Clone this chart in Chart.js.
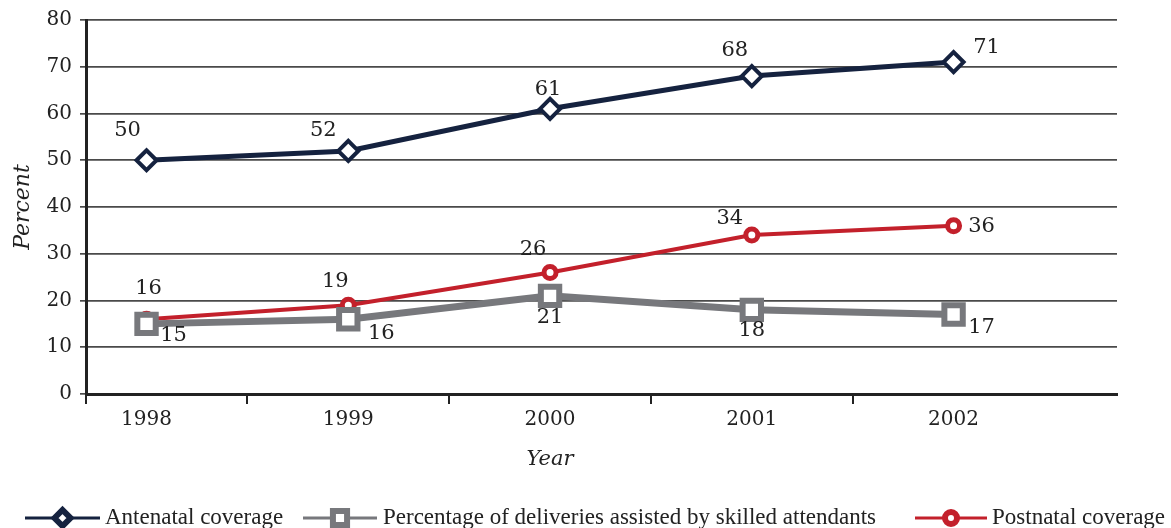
<!DOCTYPE html>
<html>
<head>
<meta charset="utf-8">
<script src="https://cdn.jsdelivr.net/npm/chart.js@4/dist/chart.umd.min.js"></script>
<style>
  html, body { margin: 0; padding: 0; background: #fff; }
  #chart { display: block; }
</style>
</head>
<body>
<canvas id="chart" width="1171" height="528"></canvas>
<script>
// ========================================
// DATA
// ========================================
const years = [1998, 1999, 2000, 2001, 2002];
const antenatal = [50, 52, 61, 68, 71];
const skilledDeliveries = [15, 16, 21, 18, 17];
const postnatal = [16, 19, 26, 34, 36];
const yTicks = [0, 10, 20, 30, 40, 50, 60, 70, 80];

const seriesNames = [
  "Antenatal coverage",
  "Percentage of deliveries assisted by skilled attendants",
  "Postnatal coverage",
];
const xTitle = "Year";
const yTitle = "Percent";

// label offsets (dx, dy) relative to each point
const labelOffsets = [
  [[-19, -30], [-25, -20], [-2, -19], [-17, -26], [33, -15]],
  [[27, 12], [33, 14], [0, 22], [0, 21], [28, 13]],
  [[2, -31], [-13, -24], [-17, -23], [-22, -17], [28, 1]],
];

// legend layout: line start, line end, text x
const legendSlots = [
  [25, 100, 105],
  [303, 377, 383],
  [915, 987, 992],
];

const NAVY = "#15223f";
const GRAY = "#77787c";
const RED = "#c3202b";
const INK = "#222222";
const SERIF = "'DejaVu Serif', Georgia, serif";

// ========================================
// PLUGINS
// ========================================
const pointLabels = {
  id: "pointLabels",
  afterDatasetsDraw(chart) {
    const ctx = chart.ctx;
    ctx.save();
    ctx.font = "21px " + SERIF;
    ctx.fillStyle = INK;
    ctx.textAlign = "center";
    ctx.textBaseline = "middle";
    chart.data.datasets.forEach((ds, i) => {
      const meta = chart.getDatasetMeta(i);
      meta.data.forEach((pt, j) => {
        const off = labelOffsets[i][j];
        ctx.fillText(String(ds.data[j].y), pt.x + off[0], pt.y + off[1]);
      });
    });
    ctx.restore();
  },
};

// x title sits under the middle year
const yearTitle = {
  id: "yearTitle",
  afterDraw(chart) {
    const ctx = chart.ctx;
    const x = chart.scales.x.getPixelForValue(years[2]);
    ctx.save();
    ctx.font = "italic 21px " + SERIF;
    ctx.fillStyle = INK;
    ctx.textAlign = "center";
    ctx.textBaseline = "middle";
    ctx.fillText(xTitle, x, 460);
    ctx.restore();
  },
};

const lineLegend = {
  id: "lineLegend",
  afterDraw(chart) {
    const ctx = chart.ctx;
    const y = 518;
    ctx.save();
    chart.data.datasets.forEach((ds, i) => {
      const [x0, x1, tx] = legendSlots[i];
      ctx.strokeStyle = ds.borderColor;
      ctx.lineWidth = 3;
      ctx.beginPath();
      ctx.moveTo(x0, y);
      ctx.lineTo(x1, y);
      ctx.stroke();
      ctx.fillStyle = "#fff";
      ctx.strokeStyle = ds.borderColor;
      ctx.lineWidth = ds.legendMarkerBorder;
      Chart.helpers.drawPoint(ctx, {
        pointStyle: ds.pointStyle,
        radius: ds.legendMarkerRadius,
        rotation: 0,
        borderWidth: ds.legendMarkerBorder,
      }, (x0 + x1) / 2, y);
      ctx.fillStyle = INK;
      ctx.font = "23px 'Liberation Serif', 'Times New Roman', serif";
      ctx.textAlign = "left";
      ctx.textBaseline = "middle";
      ctx.fillText(seriesNames[i], tx, y);
    });
    ctx.restore();
  },
};

// ========================================
// CHART
// ========================================
const toPoints = (vals) => vals.map((v, i) => ({ x: years[i], y: v }));

new Chart(document.getElementById("chart"), {
  type: "line",
  data: {
    datasets: [
      {
        label: seriesNames[0],
        data: toPoints(antenatal),
        borderColor: NAVY,
        borderWidth: 5,
        pointStyle: "rectRot",
        pointRadius: 10,
        pointBorderWidth: 4,
        pointBackgroundColor: "#fff",
        pointBorderColor: NAVY,
        legendMarkerRadius: 8,
        legendMarkerBorder: 6,
        order: 3,
      },
      {
        label: seriesNames[1],
        data: toPoints(skilledDeliveries),
        borderColor: GRAY,
        borderWidth: 7,
        pointStyle: "rect",
        pointRadius: 13,
        pointBorderWidth: 6,
        pointBackgroundColor: "#fff",
        pointBorderColor: GRAY,
        legendMarkerRadius: 10,
        legendMarkerBorder: 6,
        order: 1,
      },
      {
        label: seriesNames[2],
        data: toPoints(postnatal),
        borderColor: RED,
        borderWidth: 4,
        pointStyle: "circle",
        pointRadius: 6,
        pointBorderWidth: 5,
        pointBackgroundColor: "#fff",
        pointBorderColor: RED,
        legendMarkerRadius: 6,
        legendMarkerBorder: 6,
        order: 2,
      },
    ],
  },
  options: {
    responsive: false,
    animation: false,
    layout: { padding: { top: 18, right: 54, bottom: 44, left: 0 } },
    plugins: {
      legend: { display: false },
      tooltip: { enabled: false },
    },
    scales: {
      x: {
        type: "linear",
        min: 1997.7,
        max: 2002.81,
        afterBuildTicks: (scale) => {
          const ticks = [{ value: 1997.7 }];
          years.forEach((yr, i) => {
            ticks.push({ value: yr });
            if (i < years.length - 1) ticks.push({ value: yr + 0.5 });
          });
          scale.ticks = ticks;
        },
        afterFit: (scale) => { scale.height = 90; },
        ticks: {
          autoSkip: false,
          maxRotation: 0,
          padding: 4,
          color: INK,
          font: { family: SERIF, size: 20 },
          callback: (v) => (Number.isInteger(v) ? String(v) : ""),
        },
        grid: {
          drawOnChartArea: false,
          drawTicks: true,
          tickLength: 10,
          lineWidth: 2,
          color: (c) => (c.tick && Number.isInteger(c.tick.value) ? "rgba(0,0,0,0)" : INK),
        },
        border: { display: true, color: INK, width: 3 },
      },
      y: {
        min: 0,
        max: 80,
        afterBuildTicks: (scale) => {
          scale.ticks = yTicks.map((v) => ({ value: v }));
        },
        afterFit: (scale) => { scale.width = 86; },
        ticks: {
          padding: 8,
          color: INK,
          font: { family: SERIF, size: 20 },
        },
        grid: {
          color: "#4a4a4a",
          lineWidth: 1.7,
          tickLength: 6,
        },
        border: { display: true, color: INK, width: 3 },
        title: {
          display: true,
          text: yTitle,
          color: INK,
          padding: { top: 10, bottom: 0 },
          font: { family: SERIF, size: 22, style: "italic" },
        },
      },
    },
  },
  plugins: [pointLabels, yearTitle, lineLegend],
});
</script>
</body>
</html>
